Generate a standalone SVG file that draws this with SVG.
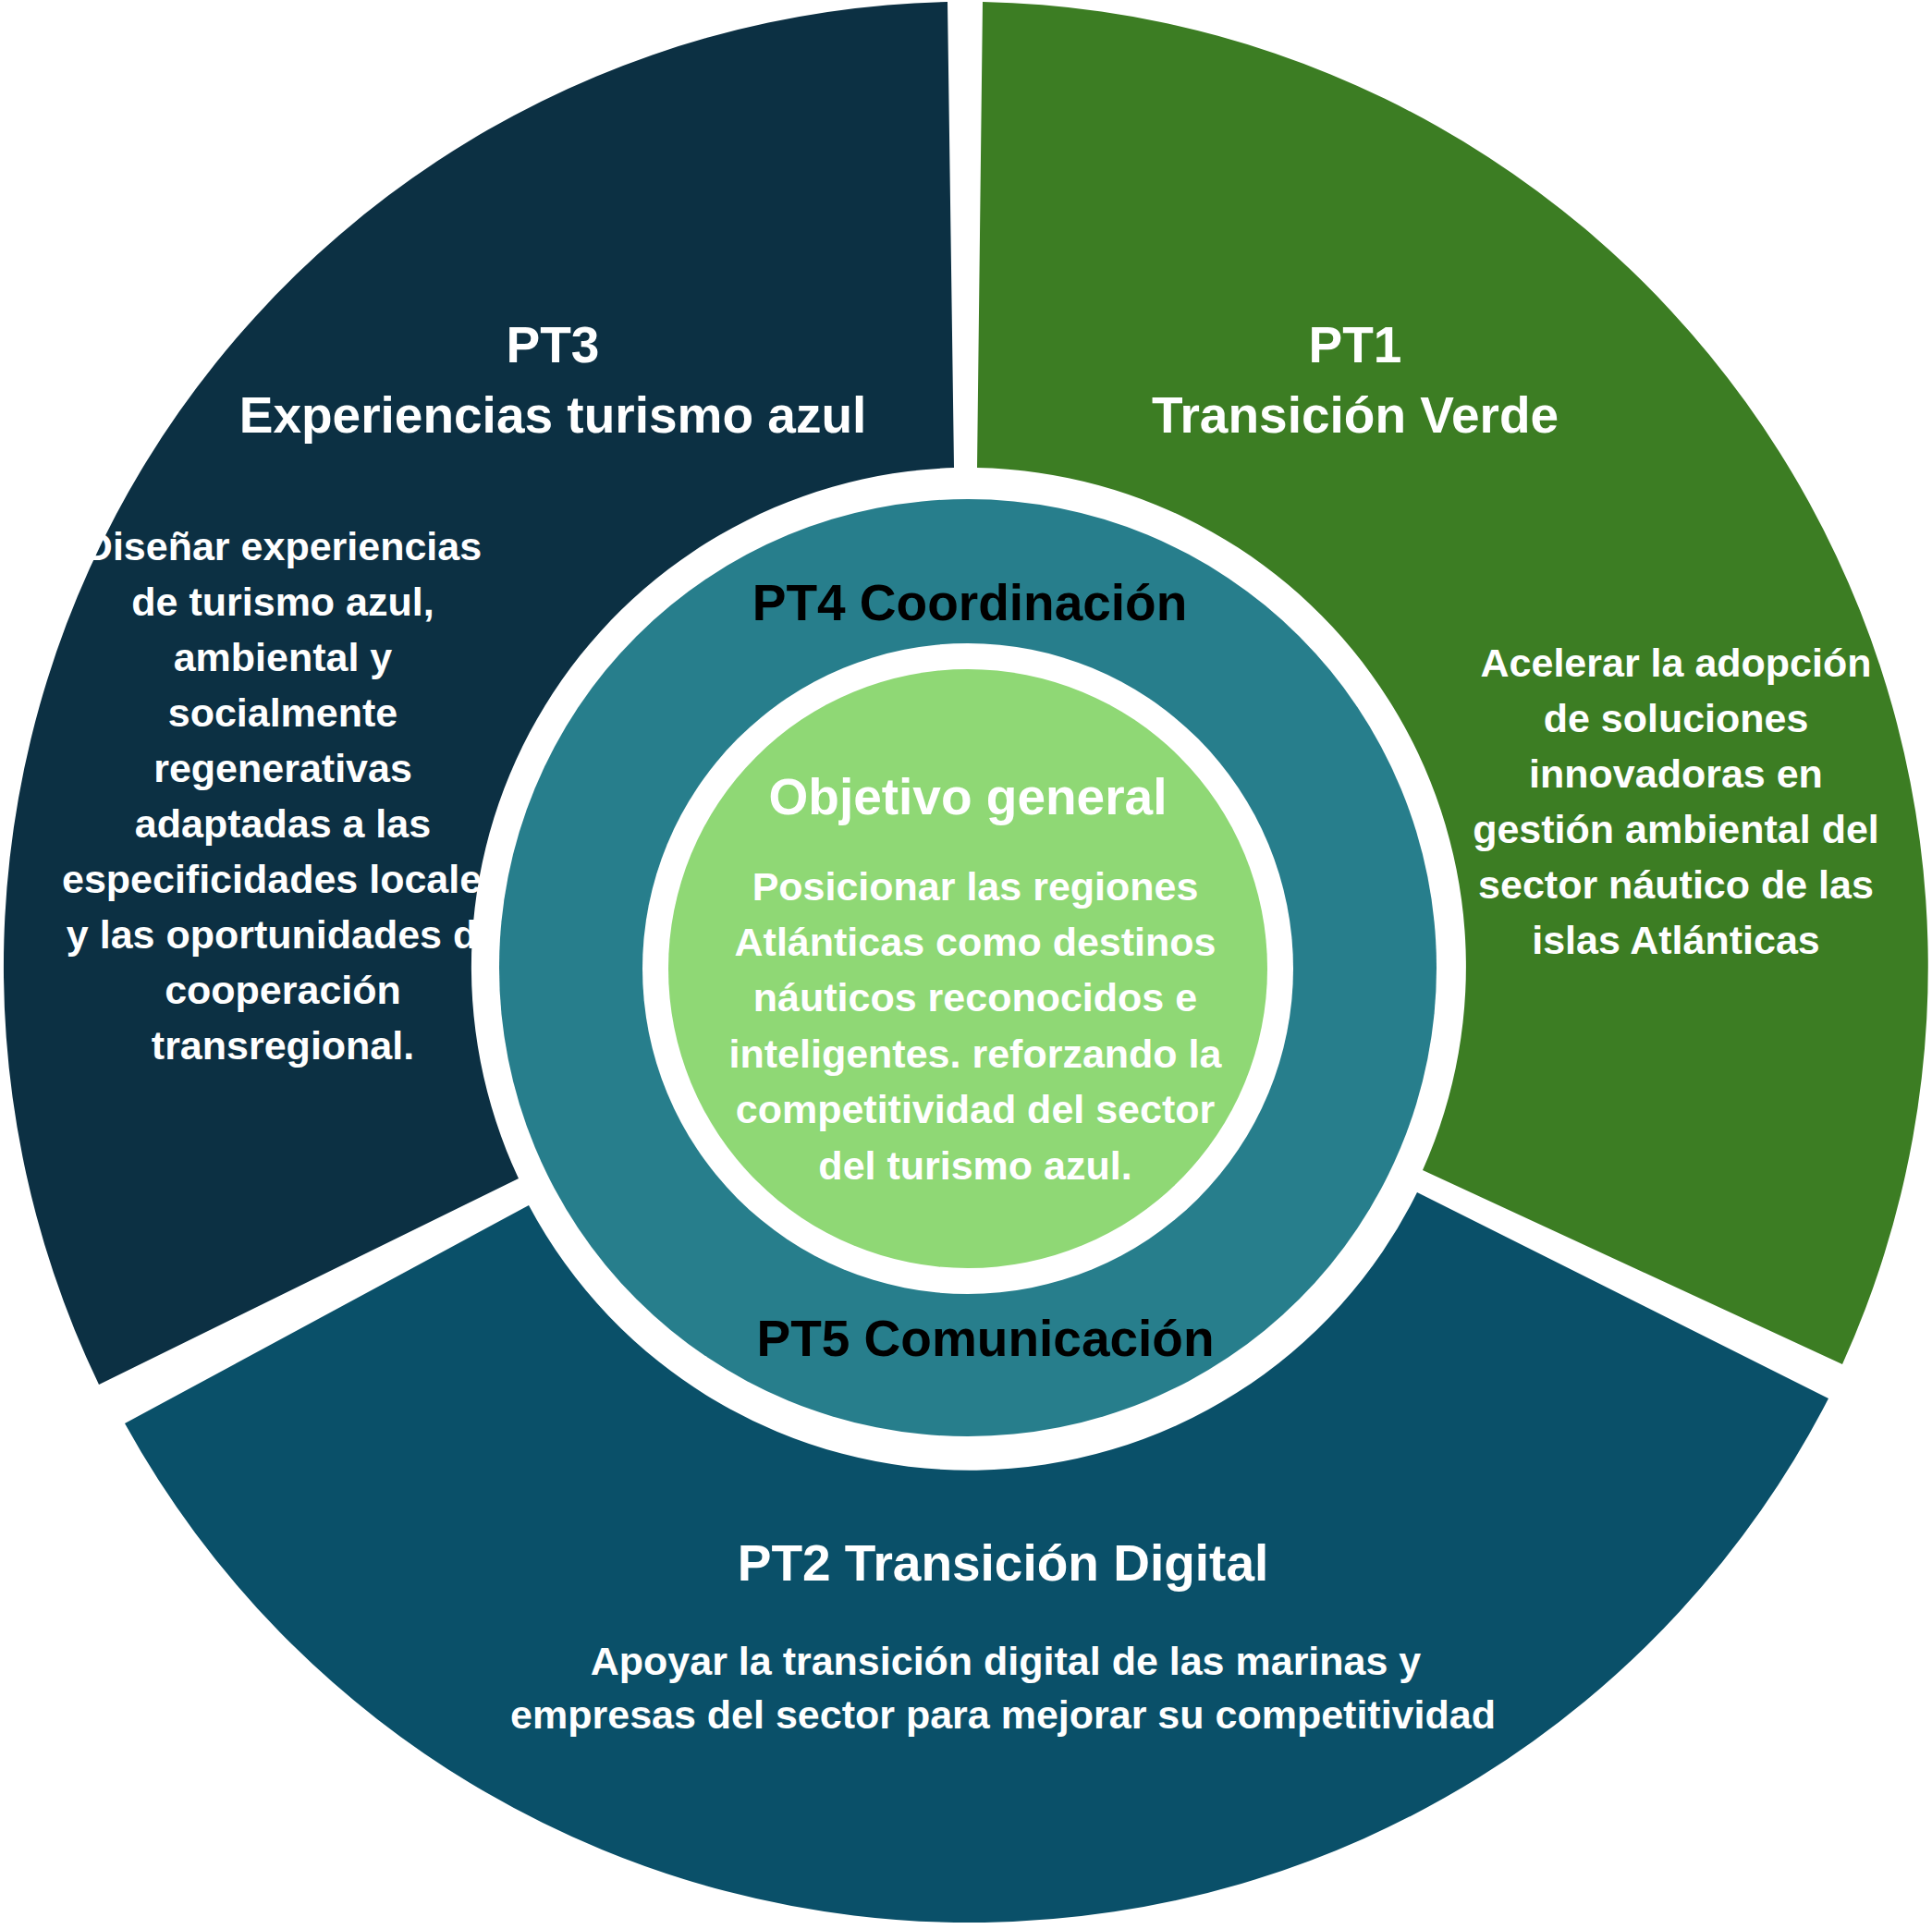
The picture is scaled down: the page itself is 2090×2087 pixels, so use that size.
<svg xmlns="http://www.w3.org/2000/svg" width="2090" height="2087" viewBox="0 0 2090 2087">
<style>
.t{font-family:"Liberation Sans",Arial,Helvetica,sans-serif;font-weight:bold;text-anchor:middle}
.w{fill:#ffffff}
.k{fill:#000000}
.h{font-size:55px}
.b{font-size:43px}
</style>
<rect x="0" y="0" width="2090" height="2087" fill="#ffffff"/>
<g id="connectors"></g>
<g id="pt3">
<path fill="#0c3043" d="M1025,2 A1044,1044 0 0 0 107,1498 L561,1275 A540,540 0 0 1 1032,506 Z"/>
<text class="t w h" x="598" y="392">PT3</text>
<text class="t w h" x="598" y="468">Experiencias turismo azul</text>
<text class="t w b" x="306" y="606">Diseñar experiencias</text>
<text class="t w b" x="306" y="666">de turismo azul,</text>
<text class="t w b" x="306" y="726">ambiental y</text>
<text class="t w b" x="306" y="786">socialmente</text>
<text class="t w b" x="306" y="846">regenerativas</text>
<text class="t w b" x="306" y="906">adaptadas a las</text>
<text class="t w b" x="306" y="966">especificidades locales</text>
<text class="t w b" x="306" y="1026">y las oportunidades de</text>
<text class="t w b" x="306" y="1086">cooperación</text>
<text class="t w b" x="306" y="1146">transregional.</text>
</g>
<g id="pt1">
<path fill="#3c7d23" d="M1063,2 A1044,1044 0 0 1 1993,1476 L1539,1266 A540,540 0 0 0 1057,506 Z"/>
<text class="t w h" x="1466" y="392">PT1</text>
<text class="t w h" x="1466" y="468">Transición Verde</text>
<text class="t w b" x="1813" y="732">Acelerar la adopción</text>
<text class="t w b" x="1813" y="792">de soluciones</text>
<text class="t w b" x="1813" y="852">innovadoras en</text>
<text class="t w b" x="1813" y="912">gestión ambiental del</text>
<text class="t w b" x="1813" y="972">sector náutico de las</text>
<text class="t w b" x="1813" y="1032">islas Atlánticas</text>
</g>
<g id="pt2">
<path fill="#0a5069" d="M1978,1513 A1044,1044 0 0 1 135,1540 L572,1304 A540,540 0 0 0 1533,1290 Z"/>
<text class="t w h" x="1085" y="1710">PT2 Transición Digital</text>
<text class="t w b" x="1088" y="1812">Apoyar la transición digital de las marinas y</text>
<text class="t w b" x="1085" y="1870">empresas del sector para mejorar su competitividad</text>
</g>
<g id="pt4-pt5-ring">
<circle cx="1047" cy="1047" r="507" fill="#277e8c"/>
<circle cx="1047" cy="1048" r="352" fill="#ffffff"/>
<text class="t k h" x="1049" y="671">PT4 Coordinación</text>
<text class="t k h" x="1066" y="1467">PT5 Comunicación</text>
</g>
<g id="objetivo-general">
<circle cx="1047" cy="1048" r="324" fill="#8fd875"/>
<text class="t w h" x="1047" y="881">Objetivo general</text>
<text class="t w b" x="1055" y="974">Posicionar las regiones</text>
<text class="t w b" x="1055" y="1034">Atlánticas como destinos</text>
<text class="t w b" x="1055" y="1094">náuticos reconocidos e</text>
<text class="t w b" x="1055" y="1155">inteligentes. reforzando la</text>
<text class="t w b" x="1055" y="1215">competitividad del sector</text>
<text class="t w b" x="1055" y="1276">del turismo azul.</text>
</g>
</svg>
